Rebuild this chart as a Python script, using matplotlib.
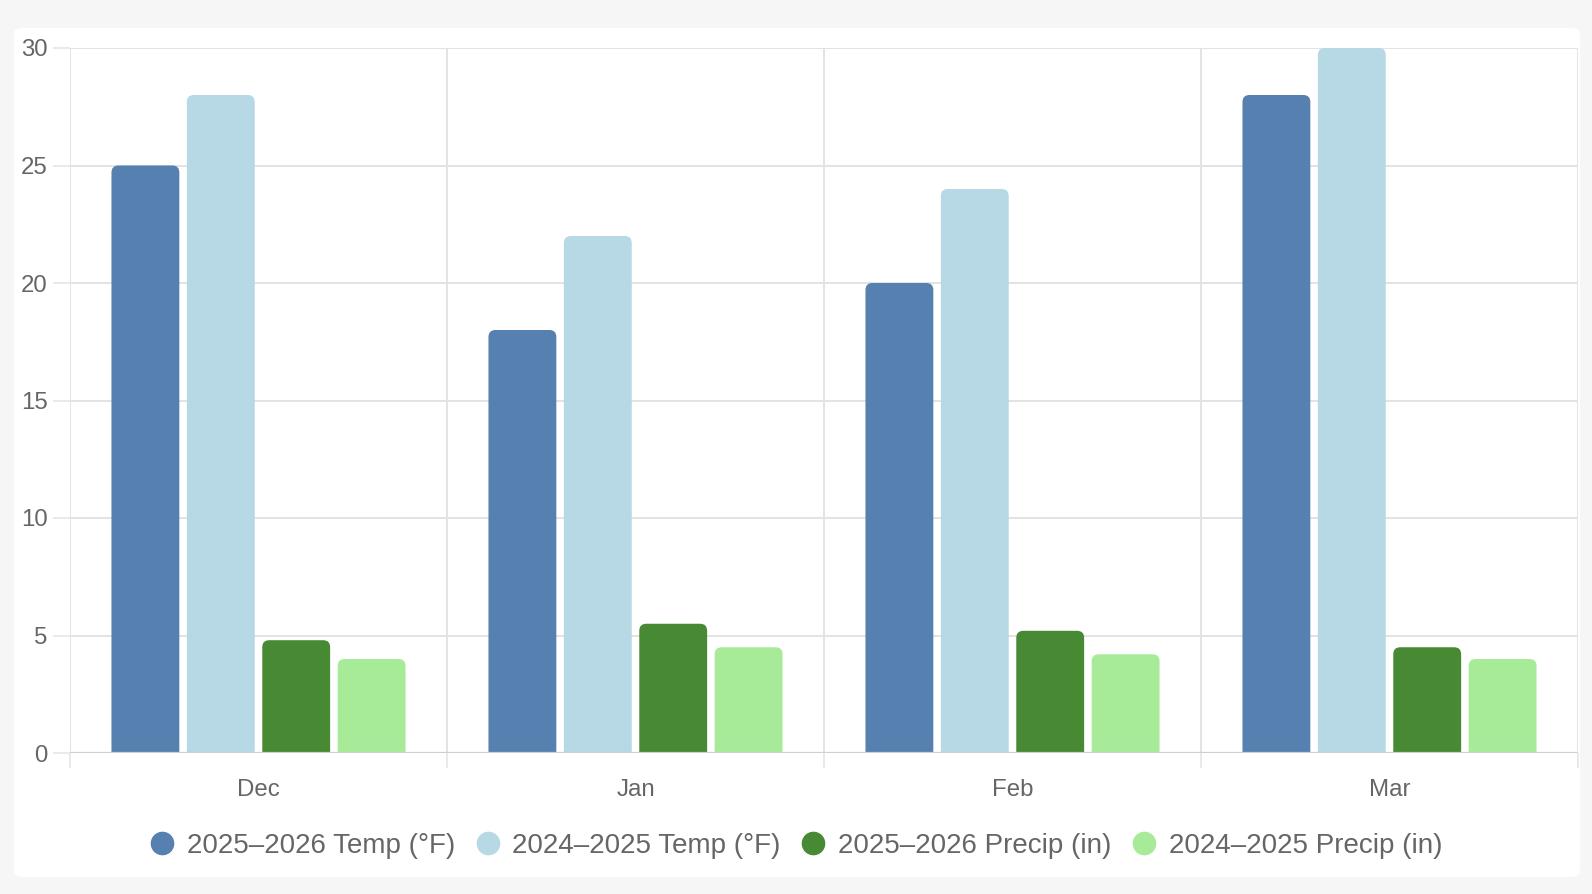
import matplotlib.pyplot as plt
from matplotlib.patches import FancyBboxPatch
from matplotlib.lines import Line2D
import numpy as np

plt.rcParams['font.family'] = ['Liberation Sans', 'DejaVu Sans']

# data
months = ["Dec", "Jan", "Feb", "Mar"]
temp_2526 = [25, 18, 20, 28]
temp_2425 = [28, 22, 24, 30]
precip_2526 = [4.8, 5.5, 5.2, 4.5]
precip_2425 = [4.0, 4.5, 4.2, 4.0]
series_labels = ["2025\u20132026 Temp (°F)", "2024\u20132025 Temp (°F)",
                 "2025\u20132026 Precip (in)", "2024\u20132025 Precip (in)"]
colors = ["#5580b0", "#b7d8e5", "#478a33", "#a7eb98"]

W, H = 1592, 894
fig = plt.figure(figsize=(W / 100, H / 100), dpi=100)
fig.patch.set_facecolor("#f6f6f6")

# white card behind the chart
card = FancyBboxPatch((14 / W, 1 - 877 / H), (1580 - 14) / W, (877 - 28) / H,
                      boxstyle="round,pad=0,rounding_size=0.006",
                      transform=fig.transFigure, facecolor="white",
                      edgecolor="none", zorder=-5)
fig.patches.append(card)

ax = fig.add_axes([70 / W, 1 - 753 / H, (1578 - 70) / W, (753 - 48) / H])
ax.set_facecolor("none")

x = np.arange(len(months))
all_series = [temp_2526, temp_2425, precip_2526, precip_2425]
n = len(all_series)
slot = 0.8 / n
bw = slot * 0.9

ax.set_xlim(-0.5, len(months) - 0.5)
ax.set_ylim(0, 30)

# rounded tops: radius in pixels converted into data units
fig.canvas.draw()
bbox = ax.get_window_extent()
px_x = bbox.width / len(months)
px_y = bbox.height / 30
radius_px = 7
r_x = radius_px / px_x
aspect = px_x / px_y

for i, (vals, c, lab) in enumerate(zip(all_series, colors, series_labels)):
    bars = ax.bar(x + (i - (n - 1) / 2) * slot, vals, width=bw, color=c, label=lab)
    for b in bars:
        bx, bh = b.get_x(), b.get_height()
        b.set_visible(False)
        ext = radius_px / px_y
        p = FancyBboxPatch((bx, -ext), bw, bh + ext,
                           boxstyle=f"round,pad=0,rounding_size={r_x}",
                           mutation_aspect=aspect, facecolor=c,
                           edgecolor="none", zorder=2)
        ax.add_patch(p)

# axes styling
for s in ["top", "right", "left", "bottom"]:
    ax.spines[s].set_visible(False)
ax.axhline(0, color="#cfcfcf", lw=1.6, zorder=3)

ax.set_yticks(np.arange(0, 31, 5))
ax.yaxis.grid(True, color="#e3e3e3", lw=1.4, zorder=0)
ax.tick_params(axis="y", length=12, width=1.1, color="#e3e3e3",
               labelsize=17.3, labelcolor="#666666", pad=4)

ax.set_xticks(x)
ax.set_xticklabels(months)
ax.set_xticks(np.arange(-0.5, len(months)), minor=True)
ax.xaxis.grid(True, which="minor", color="#e3e3e3", lw=1.4, zorder=0)
ax.tick_params(axis="x", which="major", length=0, labelsize=17.3,
               labelcolor="#666666", pad=19)
ax.tick_params(axis="x", which="minor", length=11, width=1.1, color="#e3e3e3")
ax.set_axisbelow(True)

handles = [Line2D([], [], marker="o", linestyle="none", markersize=16,
                  markerfacecolor=c, markeredgecolor=c) for c in colors]
fig.legend(handles, series_labels, loc="center", ncol=4,
           bbox_to_anchor=(0.5, 1 - 846 / H), frameon=False,
           fontsize=20, labelcolor="#666666", handlelength=0.9,
           handletextpad=0.45, columnspacing=0.72)

fig.savefig("out.png", dpi=100, facecolor=fig.get_facecolor())
